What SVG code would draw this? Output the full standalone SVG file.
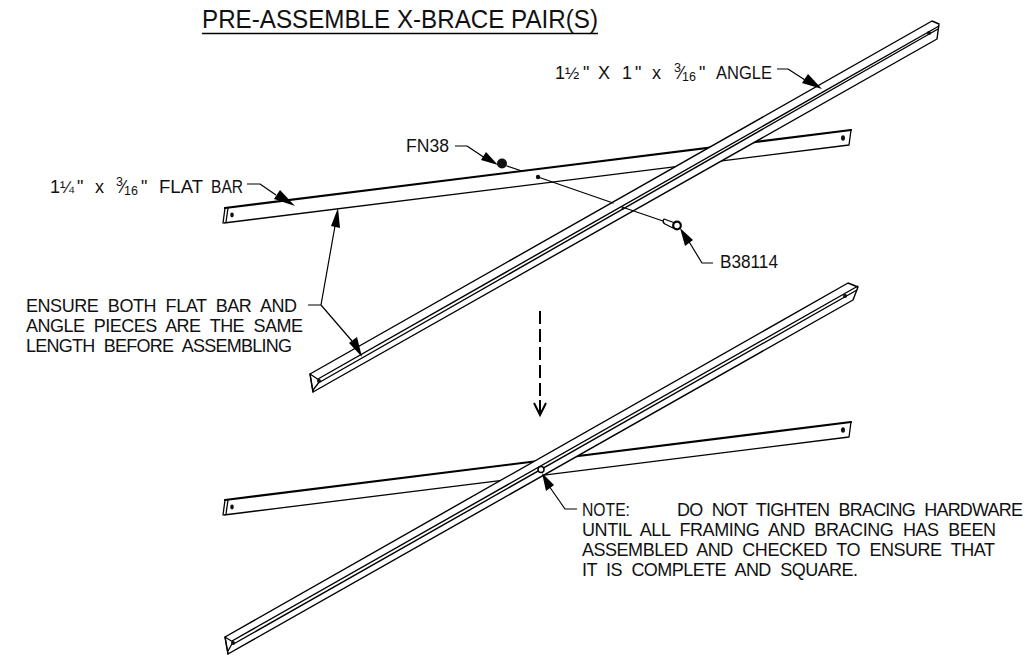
<svg xmlns="http://www.w3.org/2000/svg" width="1036" height="656" viewBox="0 0 1036 656">
<style>
text{font-family:"Liberation Sans",Arial,sans-serif;font-size:18px;fill:#111}
.small{font-size:12.500px}
.frac{font-size:17px}
.title{font-size:25.500px}
.l{fill:none;stroke:#000;stroke-width:1.3;stroke-linejoin:round;stroke-linecap:round}
.t{fill:none;stroke:#000;stroke-width:2.2;stroke-linecap:round}
.ridge{fill:none;stroke:#000;stroke-width:1.4}
.face{fill:#fff;stroke:#000;stroke-width:1.4;stroke-linejoin:round}
.hole{fill:#111}
.lead{fill:none;stroke:#000;stroke-width:1.2;stroke-linejoin:round}
.head{fill:#000;stroke:none}
</style>
<rect width="1036" height="656" fill="#fff"/>
<g id="title">
<text class="title" x="202" y="28" textLength="396" lengthAdjust="spacingAndGlyphs">PRE-ASSEMBLE X-BRACE PAIR(S)</text>
<line x1="202" y1="33.500" x2="598" y2="33.500" stroke="#000" stroke-width="1.600"/>
</g>
<g id="flat-bar-upper">
<path class="l" d="M224 223L849 145L851 130"/>
<path class="t" d="M225 208L851 130"/>
<path class="l" d="M225 208L223 223M228 208L226 222"/>
<ellipse class="hole" cx="232" cy="215" rx="1.800" ry="2.400"/>
<ellipse class="hole" cx="843" cy="138" rx="2" ry="2.800"/>
</g>
<g id="bolt-fn38">
<path class="l" d="M507 166L522 171"/>
<circle cx="502" cy="163.500" r="5" fill="#111"/>
</g>
<g id="angle-upper">
<path class="face" d="M310 374L932 21L939 24L937 39L313 392Z"/>
<path class="l" d="M310 374L313 392M310 374L316 378L320 381L313 390"/>
<path class="ridge" d="M318 379L939 26M320 382L938 29"/>
<circle class="hole" cx="319" cy="381" r="2"/>
<circle class="hole" cx="929" cy="33" r="2"/>
</g>
<g id="bolt-b38114">
<circle cx="538" cy="177" r="2.200" class="hole"/>
<path class="l" d="M538 177L613 203M625 208L663 221"/>
<circle cx="623" cy="208" r="1.500" class="hole"/>
<path class="l" d="M664 219L675 223L673 228L665 224Q662 222 664 219Z"/>
<circle cx="677" cy="225.500" r="3.800" fill="#fff" stroke="#000" stroke-width="2.200"/>
</g>
<g id="flat-bar-lower">
<path class="l" d="M224 515L849 437L851 422"/>
<path class="t" d="M225 500L851 422"/>
<path class="l" d="M225 500L223 515M228 500L226 514"/>
<ellipse class="hole" cx="232" cy="507" rx="1.800" ry="2.400"/>
<ellipse class="hole" cx="843" cy="430" rx="2" ry="2.800"/>
</g>
<g id="angle-lower">
<path class="face" d="M225 637L848 283L858 287L853 300L228 654Z"/>
<path class="l" d="M225 637L228 654M225 637L233 642L228 651"/>
<path class="ridge" d="M232 641L858 286M233.500 644L857 290"/>
<circle class="hole" cx="233" cy="643" r="2"/>
<circle class="hole" cx="845" cy="296" r="2"/>
<circle cx="541" cy="469.500" r="3" fill="#fff" stroke="#000" stroke-width="1.500"/>
</g>
<g id="connectors">
<path class="lead" d="M455 146H467L485 158"/>
<polygon class="head" points="498,165 481,160 486,152"/>
<path class="lead" d="M247 184H260L276 195"/>
<polygon class="head" points="295,206 274,199 280,190"/>
<path class="lead" d="M777 69H788L805 80"/>
<polygon class="head" points="822,89 802,83 808,74"/>
<path class="lead" d="M713 263H702L688 240"/>
<polygon class="head" points="680,228 693,240 685,246"/>
<path class="lead" d="M308 305H321L335 226M321 305L352 341"/>
<polygon class="head" points="338,208 340,228 331,226"/>
<polygon class="head" points="362,357 349,343 357,337"/>
<path class="lead" d="M577 509H565L549 486"/>
<polygon class="head" points="542,473 554,485 546,491"/>
<path d="M540 311V397" fill="none" stroke="#000" stroke-width="2" stroke-dasharray="13 5"/>
<path d="M540 400V414M534 403L540 415L546 403" fill="none" stroke="#000" stroke-width="2"/>
</g>
<g id="label-angle">
<text x="555" y="79">1</text>
<text class="frac" x="565" y="79">½</text>
<text x="583" y="79">"</text>
<text x="598" y="79">X</text>
<text x="622" y="79">1</text>
<text x="635" y="79">"</text>
<text x="652" y="79">x</text>
<text class="small" x="674" y="72">3</text>
<text x="680" y="79">⁄</text>
<text class="small" x="682" y="81">16</text>
<text x="699" y="79">"</text>
<text x="716" y="79" textLength="56" lengthAdjust="spacingAndGlyphs">ANGLE</text>
</g>
<g id="label-fn38"><text x="406" y="152" textLength="43" lengthAdjust="spacingAndGlyphs">FN38</text></g>
<g id="label-flat-bar">
<text x="50" y="193">1</text>
<text class="frac" x="60" y="193">¼</text>
<text x="77" y="193">"</text>
<text x="95" y="193">x</text>
<text class="small" x="116" y="186">3</text>
<text x="122" y="193">⁄</text>
<text class="small" x="124" y="195">16</text>
<text x="141" y="193">"</text>
<text x="159" y="193" textLength="44" lengthAdjust="spacingAndGlyphs">FLAT</text>
<text x="211" y="193" textLength="32" lengthAdjust="spacingAndGlyphs">BAR</text>
</g>
<g id="label-b38114"><text x="720" y="268" textLength="58" lengthAdjust="spacingAndGlyphs">B38114</text></g>
<g id="label-ensure">
<text x="26" y="312" textLength="271" lengthAdjust="spacing" word-spacing="5">ENSURE BOTH FLAT BAR AND</text>
<text x="26" y="332" textLength="277" lengthAdjust="spacing" word-spacing="5">ANGLE PIECES ARE THE SAME</text>
<text x="26" y="352" textLength="266" lengthAdjust="spacing" word-spacing="5">LENGTH BEFORE ASSEMBLING</text>
</g>
<g id="label-note">
<text x="582" y="516" textLength="48" lengthAdjust="spacingAndGlyphs">NOTE:</text>
<text x="677" y="516" textLength="346" lengthAdjust="spacing" word-spacing="5">DO NOT TIGHTEN BRACING HARDWARE</text>
<text x="582" y="536" textLength="414" lengthAdjust="spacing" word-spacing="5">UNTIL ALL FRAMING AND BRACING HAS BEEN</text>
<text x="582" y="556" textLength="413" lengthAdjust="spacing" word-spacing="5">ASSEMBLED AND CHECKED TO ENSURE THAT</text>
<text x="582" y="576" textLength="276" lengthAdjust="spacing" word-spacing="5">IT IS COMPLETE AND SQUARE.</text>
</g>
</svg>
